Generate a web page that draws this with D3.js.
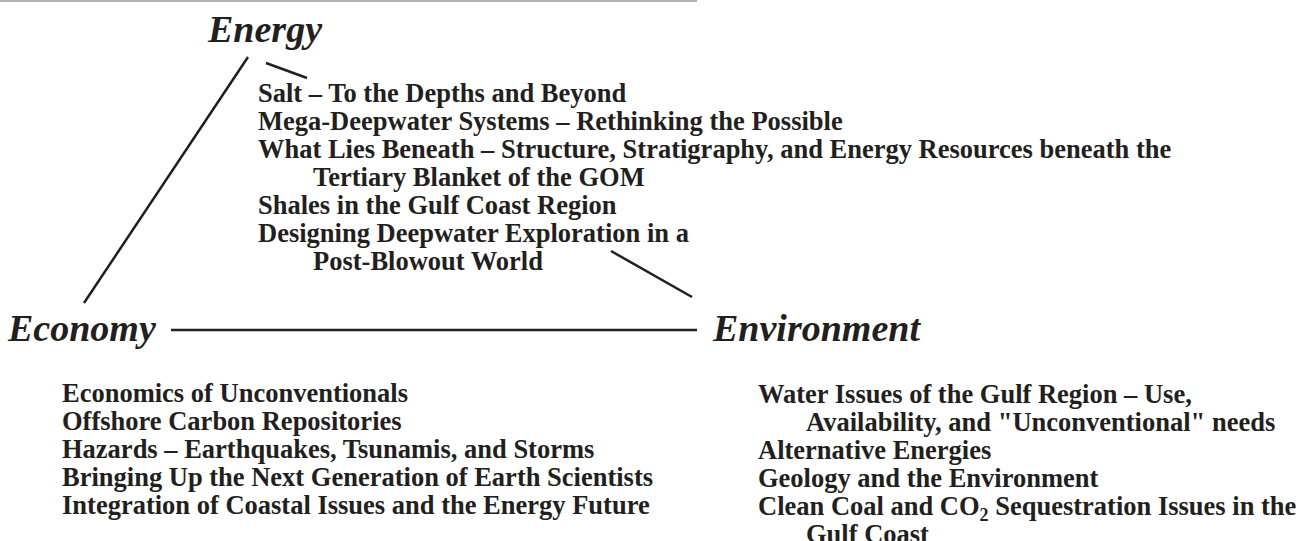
<!DOCTYPE html>
<html>
<head>
<meta charset="utf-8">
<script src="https://cdn.jsdelivr.net/npm/d3@7"></script>
<style>
  body { margin: 0; background: #fff; overflow: hidden; }
  text { font-family: "Liberation Serif", "Times New Roman", serif; fill: #231f20; }
</style>
</head>
<body>
<script>
// Corner themes of the triangle
var themes = ["Energy", "Economy", "Environment"];

// Session topics, each topic is a list of lines (2nd line is a wrap)
var energyTopics = [
    ["Salt – To the Depths and Beyond"],
    ["Mega-Deepwater Systems – Rethinking the Possible"],
    ["What Lies Beneath – Structure, Stratigraphy, and Energy Resources beneath the", "Tertiary Blanket of the GOM"],
    ["Shales in the Gulf Coast Region"],
    ["Designing Deepwater Exploration in a", "Post-Blowout World"]
];

var economyTopics = [
    ["Economics of Unconventionals"],
    ["Offshore Carbon Repositories"],
    ["Hazards – Earthquakes, Tsunamis, and Storms"],
    ["Bringing Up the Next Generation of Earth Scientists"],
    ["Integration of Coastal Issues and the Energy Future"]
];

var environmentTopics = [
    ["Water Issues of the Gulf Region – Use,", "Availability, and \"Unconventional\" needs"],
    ["Alternative Energies"],
    ["Geology and the Environment"],
    ["Clean Coal and CO_2 Sequestration Issues in the", "Gulf Coast"]
];

var width = 1310, height = 541;

var svg = d3.select("body").append("svg")
    .attr("width", width)
    .attr("height", height);

// thin grey rule at the very top
svg.append("line")
    .attr("x1", 0).attr("y1", 1)
    .attr("x2", 697).attr("y2", 1)
    .attr("stroke", "#b3b3b3")
    .attr("stroke-width", 2);

// Theme labels
var themePos = {
    "Energy": [208, 42],
    "Economy": [8, 341],
    "Environment": [713, 341]
};

svg.selectAll("text.theme")
    .data(themes)
    .enter().append("text")
    .attr("class", "theme")
    .attr("x", function(d){ return themePos[d][0]; })
    .attr("y", function(d){ return themePos[d][1]; })
    .style("font-size", "38px")
    .style("font-weight", "bold")
    .style("font-style", "italic")
    .text(function(d){ return d; });

// Connecting strokes
var lineFunction = d3.line()
    .x(function(d){ return d[0]; })
    .y(function(d){ return d[1]; });

var strokes = [
    [[248, 57], [84, 303]],
    [[266, 63], [307, 78]],
    [[611, 251], [692, 297]],
    [[171, 330], [697, 330]]
];

svg.selectAll("path.stroke")
    .data(strokes)
    .enter().append("path")
    .attr("class", "stroke")
    .attr("d", lineFunction)
    .attr("fill", "none")
    .attr("stroke", "#231f20")
    .attr("stroke-width", 2.5);

// flatten topics into rows
function toRows(topics){
    var rows = [];
    topics.forEach(function(t){
        t.forEach(function(line, j){
            rows.push({ text: line, wrap: j > 0 });
        });
    });
    return rows;
}

function drawList(topics, x, y0, step, indent){
    var rows = toRows(topics);
    var y = d3.scaleLinear().domain([0, 1]).range([y0, y0 + step]);
    var g = svg.append("g");
    var t = g.selectAll("text")
        .data(rows)
        .enter().append("text")
        .attr("x", function(d){ return d.wrap ? x + indent : x; })
        .attr("y", function(d, i){ return y(i); })
        .style("font-size", "26.5px")
        .style("font-weight", "bold");

    t.each(function(d){
        var el = d3.select(this);
        var parts = d.text.split(/_(\d)/);
        parts.forEach(function(p, k){
            if (k % 2 === 1) {
                el.append("tspan").attr("dy", 6).style("font-size", "18px").text(p);
            } else if (k > 0) {
                el.append("tspan").attr("dy", -6).text(p);
            } else {
                el.append("tspan").text(p);
            }
        });
    });
}

drawList(energyTopics, 258, 102, 28, 55);
drawList(economyTopics, 62, 402, 28, 50);
drawList(environmentTopics, 758, 403, 28, 48);
</script>
</body>
</html>
